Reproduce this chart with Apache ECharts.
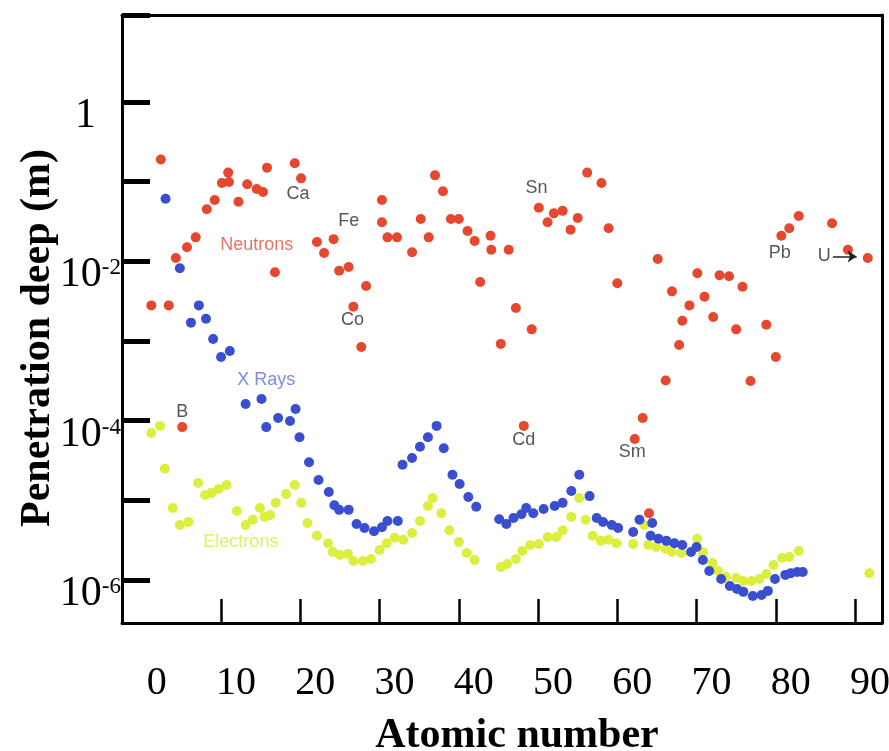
<!DOCTYPE html>
<html>
<head>
<meta charset="utf-8">
<title>Penetration depth vs atomic number</title>
<script src="https://cdn.jsdelivr.net/npm/echarts@6/dist/echarts.min.js"></script>
<style>
  html, body { margin: 0; padding: 0; background: #fff; }
  #chart { width: 889px; height: 751px; }
</style>
</head>
<body>
<div id="chart"></div>
<script>
// atomic number (x) and penetration depth in m (y)
const neutronZ = [1.2, 2.4, 3.4, 4.3, 5.1, 5.7, 6.8, 8.2, 9.2, 10.1,
  10.9, 11.0, 12.2, 13.3, 14.5, 15.3, 15.8, 16.8, 19.3, 20.1,
  22.1, 23.0, 24.2, 24.9, 26.1, 26.7, 27.7, 28.3, 30.3, 30.3,
  31.0, 32.2, 34.1, 35.2, 36.2, 37.0, 38.0, 39.0, 40.0, 41.1,
  42.0, 42.7, 44.0, 44.1, 45.3, 46.3, 47.2, 48.2, 49.2, 50.1,
  51.2, 52.0, 53.1, 54.1, 55.0, 56.2, 58.0, 58.9, 60.0, 62.2,
  63.2, 64.0, 65.1, 66.1, 66.9, 67.8, 68.2, 69.1, 70.1, 71.0,
  72.1, 72.9, 74.1, 75.0, 75.8, 76.8, 78.8, 80.0, 80.7, 81.7,
  82.9, 87.1, 89.1, 91.6]
const neutronDepth = [0.0028, 0.19, 0.0028, 0.011, 8.3e-5, 0.015, 0.020, 0.045, 0.059, 0.096,
  0.13, 0.099, 0.056, 0.093, 0.081, 0.074, 0.15, 0.0073, 0.17, 0.11,
  0.0175, 0.0127, 0.019, 0.0076, 0.0085, 0.0027, 8.4e-4, 0.0049, 0.059, 0.031,
  0.020, 0.020, 0.013, 0.034, 0.020, 0.12, 0.076, 0.034, 0.034, 0.024,
  0.018, 0.0055, 0.021, 0.014, 9.2e-4, 0.014, 0.0026, 8.6e-5, 0.0014, 0.047,
  0.031, 0.040, 0.043, 0.025, 0.035, 0.13, 0.096, 0.026, 0.0053, 5.9e-5,
  1.08e-4, 6.9e-6, 0.0107, 3.2e-4, 0.0042, 8.9e-4, 0.0018, 0.0028, 0.0071, 0.0036,
  0.0020, 0.0067, 0.0065, 0.0014, 0.0048, 3.15e-4, 0.0016, 6.3e-4, 0.021, 0.026,
  0.037, 0.030, 0.014, 0.011]

const xrayZ = [3.0, 4.8, 6.2, 7.2, 8.1, 9.0, 10.0, 11.1, 13.1, 15.1,
  15.7, 17.2, 18.7, 19.4, 19.9, 21.1, 22.3, 23.6, 24.3, 24.9,
  26.1, 27.1, 28.1, 29.3, 30.3, 31.0, 32.3, 32.9, 34.1, 35.1,
  36.1, 37.2, 38.1, 39.2, 40.1, 41.2, 42.2, 45.1, 46.0, 46.9,
  47.9, 48.5, 49.4, 50.7, 52.1, 53.1, 54.2, 55.2, 56.5, 57.4,
  58.2, 59.3, 60.1, 62.0, 62.8, 64.2, 64.4, 65.2, 66.2, 67.2,
  68.2, 69.3, 70.0, 70.8, 71.6, 73.1, 74.2, 75.1, 75.9, 77.1,
  78.2, 79.0, 79.9, 81.2, 81.9, 82.7, 83.4]
const xrayDepth = [0.061, 0.0082, 0.0017, 0.0028, 0.0019, 0.00106, 6.3e-4, 7.5e-4, 1.62e-4, 1.87e-4,
  8.3e-5, 1.08e-4, 9.9e-5, 1.40e-4, 6.2e-5, 3.0e-5, 1.8e-5, 1.27e-5, 8.7e-6, 7.6e-6,
  7.6e-6, 5.05e-6, 4.5e-6, 4.1e-6, 4.6e-6, 5.5e-6, 5.5e-6, 2.8e-5, 3.4e-5, 4.7e-5,
  6.2e-5, 8.6e-5, 4.5e-5, 2.1e-5, 1.6e-5, 1.1e-5, 8.3e-6, 5.8e-6, 5.05e-6, 6.0e-6,
  6.7e-6, 8.0e-6, 6.9e-6, 7.8e-6, 8.5e-6, 9.3e-6, 1.31e-5, 2.1e-5, 1.13e-5, 6.0e-6,
  5.35e-6, 4.9e-6, 4.5e-6, 4.0e-6, 5.7e-6, 3.6e-6, 5.2e-6, 3.3e-6, 3.1e-6, 2.9e-6,
  2.75e-6, 2.25e-6, 2.6e-6, 1.78e-6, 1.3e-6, 1.03e-6, 8.4e-7, 7.7e-7, 7.1e-7, 6.3e-7,
  6.5e-7, 7.3e-7, 1.03e-6, 1.16e-6, 1.22e-6, 1.26e-6, 1.26e-6]

const electronZ = [1.2, 2.3, 2.9, 3.9, 4.8, 5.9, 7.1, 8.0, 8.8, 9.7,
  10.7, 12.0, 13.1, 14.0, 14.9, 15.5, 16.2, 16.9, 18.2, 19.3,
  20.1, 20.9, 22.1, 23.5, 24.1, 25.0, 26.0, 26.7, 27.9, 28.9,
  30.0, 30.9, 31.9, 33.0, 34.1, 35.1, 36.1, 36.7, 37.8, 38.8,
  40.0, 41.0, 42.0, 45.3, 46.1, 47.2, 48.0, 49.0, 50.1, 51.2,
  52.3, 53.1, 54.2, 55.2, 56.0, 56.9, 57.9, 58.9, 59.9, 62.0,
  63.4, 63.9, 64.9, 66.1, 66.9, 68.1, 70.1, 70.8, 72.0, 72.7,
  73.7, 75.0, 75.9, 76.9, 77.9, 78.8, 79.7, 80.8, 81.7, 82.9,
  91.8]
const electronDepth = [7.0e-5, 8.6e-5, 2.5e-5, 8.0e-6, 4.9e-6, 5.35e-6, 1.65e-5, 1.17e-5, 1.24e-5, 1.39e-5,
  1.56e-5, 7.35e-6, 4.9e-6, 5.7e-6, 8.0e-6, 6.2e-6, 6.55e-6, 9.3e-6, 1.2e-5, 1.56e-5,
  9.3e-6, 5.2e-6, 3.6e-6, 2.9e-6, 2.25e-6, 2.06e-6, 2.12e-6, 1.73e-6, 1.73e-6, 1.84e-6,
  2.38e-6, 2.9e-6, 3.4e-6, 3.2e-6, 3.9e-6, 5.5e-6, 8.5e-6, 1.07e-5, 6.9e-6, 4.2e-6,
  3.0e-6, 2.18e-6, 1.78e-6, 1.46e-6, 1.59e-6, 1.84e-6, 2.31e-6, 2.75e-6, 2.83e-6, 3.47e-6,
  3.47e-6, 4.2e-6, 6.2e-6, 1.07e-5, 5.7e-6, 3.6e-6, 3.1e-6, 3.2e-6, 2.9e-6, 2.83e-6,
  4.9e-6, 2.75e-6, 2.6e-6, 2.45e-6, 2.25e-6, 2.18e-6, 3.3e-6, 2.25e-6, 1.63e-6, 1.3e-6,
  1.09e-6, 1.06e-6, 9.7e-7, 9.7e-7, 1.03e-6, 1.19e-6, 1.54e-6, 1.89e-6, 1.94e-6, 2.31e-6,
  1.22e-6]

// text notes placed in data coordinates
const noteNames = ['Ca', 'Fe', 'Neutrons', 'Co', 'X Rays', 'B', 'Electrons', 'Cd', 'Sn', 'Sm', 'Pb', 'U']
const noteZ = [19.7, 26.1, 14.5, 26.6, 15.7, 5.1, 12.5, 48.2, 49.8, 61.9, 80.5, 86.1]
const noteDepth = [0.070, 0.032, 0.016, 1.84e-3, 3.24e-4, 1.28e-4, 3.0e-6, 5.72e-5, 0.0833, 4.04e-5, 0.0127, 0.0117]
const uArrow = [[87.2, 0.0115], [90.2, 0.0115]]

const xTickValues = [10, 20, 30, 40, 50, 60, 70, 80, 90]
const xLabelValues = [0, 10, 20, 30, 40, 50, 60, 70, 80, 90]
const yLabelValues = [1, 1e-2, 1e-4, 1e-6]
const xMin = -2.5
const xMax = 93.4
const yMin = 2.887e-7
const yMax = 12.36
const yTickValues = [12.35, 1, 0.1, 0.01, 1e-3, 1e-4, 1e-5, 1e-6]

const colors = {
  neutron: '#e5482f',
  xray: '#3a4fcf',
  electron: '#dcef3f'
}
const noteColors = {
  Neutrons: '#e0503c',
  'X Rays': '#5b6de0',
  Electrons: '#d6ec3c'
}

const zip = (xs, ys) => xs.map((x, i) => [x, ys[i]])

const myChart = echarts.init(document.getElementById('chart'))
const serif = 'Liberation Serif, Times New Roman, serif'

const option = {
  animation: false,
  backgroundColor: '#fff',
  grid: {
    left: 122,
    right: 7,
    top: 15,
    bottom: 128,
    containLabel: false,
    outerBoundsMode: 'none'
  },
  xAxis: [
    {
      type: 'value',
      min: xMin,
      max: xMax,
      name: 'Atomic number',
      nameLocation: 'middle',
      nameGap: 92,
      nameMoveOverlap: false,
      nameTextStyle: {
        fontFamily: serif,
        fontWeight: 'bold',
        fontSize: 42,
        color: '#000',
        padding: [0, 0, 0, 30]
      },
      splitLine: { show: false },
      axisLine: { onZero: false, lineStyle: { color: '#000', width: 3 } },
      axisTick: {
        inside: true,
        length: 24,
        customValues: xTickValues,
        lineStyle: { color: '#000', width: 2.5 }
      },
      axisLabel: {
        customValues: xLabelValues,
        margin: 40,
        fontFamily: serif,
        fontSize: 40,
        color: '#000',
        padding: [0, 0, 0, 30]
      }
    },
    {
      type: 'value',
      position: 'top',
      min: xMin,
      max: xMax,
      splitLine: { show: false },
      axisLine: { onZero: false, lineStyle: { color: '#000', width: 3 } },
      axisTick: { show: false },
      axisLabel: { show: false }
    }
  ],
  yAxis: [
    {
      type: 'log',
      logBase: 10,
      min: yMin,
      max: yMax,
      name: 'Penetration deep (m)',
      nameLocation: 'middle',
      nameRotate: 90,
      nameGap: 63,
      nameMoveOverlap: false,
      nameTextStyle: {
        fontFamily: serif,
        fontWeight: 'bold',
        fontSize: 42,
        color: '#000',
        padding: [0, 38, 0, 0]
      },
      splitLine: { show: false },
      minorTick: { show: false },
      axisLine: { onZero: false, lineStyle: { color: '#000', width: 3 } },
      axisTick: {
        inside: true,
        length: 28,
        customValues: yTickValues,
        lineStyle: { color: '#000', width: 5 }
      },
      axisLabel: {
        customValues: yLabelValues,
        margin: 1,
        padding: [28, 0, 0, 0],
        color: '#000',
        formatter: function (value) {
          if (value === 1) {
            return '{one|1}'
          }
          const exp = Math.round(Math.log10(value))
          return '{b|10}{s|' + exp + '}'
        },
        rich: {
          one: { fontFamily: serif, fontSize: 42, color: '#000', padding: [0, 25, 0, 0] },
          b: { fontFamily: serif, fontSize: 42, color: '#000' },
          s: { fontFamily: serif, fontSize: 23, color: '#000', padding: [0, 0, 14, 0] }
        }
      }
    },
    {
      type: 'log',
      logBase: 10,
      position: 'right',
      min: yMin,
      max: yMax,
      splitLine: { show: false },
      axisLine: { onZero: false, lineStyle: { color: '#000', width: 3 } },
      axisTick: { show: false },
      axisLabel: { show: false }
    }
  ],
  series: [
    {
      name: 'Electrons',
      type: 'scatter',
      symbolSize: 10,
      itemStyle: { color: colors.electron, opacity: 1 },
      data: zip(electronZ, electronDepth)
    },
    {
      name: 'X Rays',
      type: 'scatter',
      symbolSize: 10,
      itemStyle: { color: colors.xray, opacity: 1 },
      data: zip(xrayZ, xrayDepth)
    },
    {
      name: 'Neutrons',
      type: 'scatter',
      symbolSize: 10,
      itemStyle: { color: colors.neutron, opacity: 1 },
      data: zip(neutronZ, neutronDepth)
    },
    {
      name: 'notes',
      type: 'scatter',
      symbolSize: 0,
      silent: true,
      label: {
        show: true,
        position: 'inside',
        fontFamily: 'Liberation Sans, Arial, sans-serif',
        fontSize: 18,
        color: '#2b2b2b',
        formatter: (p) => p.name
      },
      data: noteNames.map((n, i) => ({
        name: n,
        value: [noteZ[i], noteDepth[i]],
        label: { color: noteColors[n] || '#2b2b2b' }
      })),
      markLine: {
        silent: true,
        symbol: ['none', 'arrow'],
        symbolSize: 9,
        label: { show: false },
        lineStyle: { color: '#222', width: 1.5, type: 'solid' },
        data: [[{ coord: uArrow[0] }, { coord: uArrow[1] }]]
      }
    }
  ]
}
myChart.setOption(option)

window.addEventListener('resize', () => {
  myChart.resize()
})
</script>
</body>
</html>
